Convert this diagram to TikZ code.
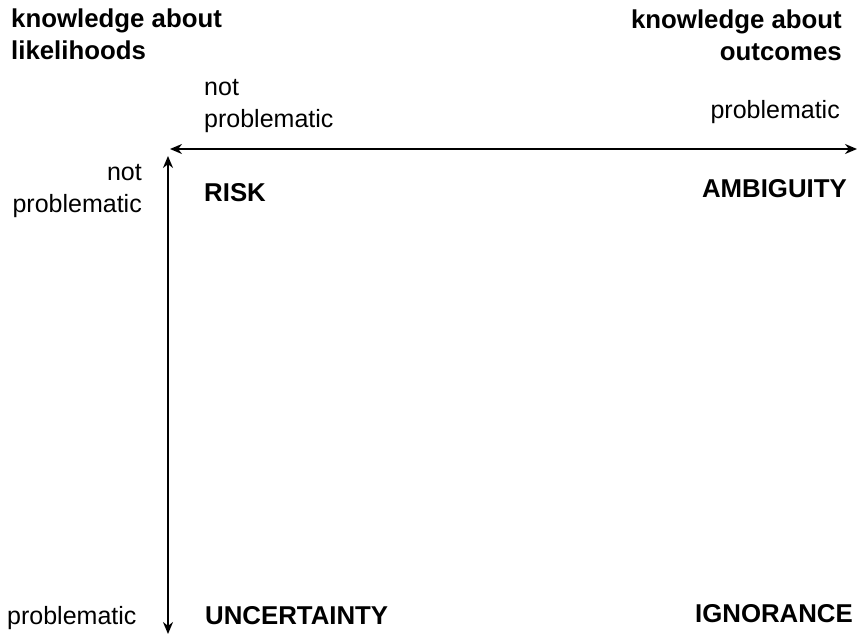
\documentclass[tikz,border=0pt]{standalone}
\usepackage{fontspec}
\setmainfont{Liberation Sans}
\usetikzlibrary{arrows.meta, positioning}

\begin{document}
\begin{tikzpicture}[x=1pt, y=-1pt,
		axistitle/.style={font=\fontsize{25.8}{32}\selectfont\bfseries, inner sep=0pt},
		level/.style={font=\fontsize{25}{32}\selectfont, inner sep=0pt},
		quadrant/.style={font=\fontsize{25.8}{32}\selectfont\bfseries, inner sep=0pt},
		axisline/.style={line width=2.8pt, {Stealth[length=12pt,width=10pt]}-{Stealth[length=12pt,width=10pt]}}]
	\useasboundingbox (0,0) rectangle (858,637);
	% axes
	\coordinate (hleft) at (170,149);
	\coordinate (hright) at (857,149);
	\coordinate (vtop) at (168,156);
	\coordinate (vbottom) at (168,634);
	\draw[axisline] (hleft) -- (hright);
	\draw[axisline] (vtop) -- (vbottom);
	% titles
	\node[axistitle, anchor=base west, align=left] (likelihoods) at (11,59) {knowledge about\\likelihoods};
	\node[axistitle, anchor=base east, align=right] (outcomes) at (842,60) {knowledge about\\outcomes};
	% levels on the axes
	\node[level, anchor=base west, align=left] (topnot) at (204,127) {not\\problematic};
	\node[level, anchor=base east] (topprob) at (840,118) {problematic};
	\node[level, anchor=base east, align=right] (leftnot) at (142,212) {not\\problematic};
	\node[level, anchor=base west] (leftprob) at (7,624) {problematic};
	% quadrants
	\node[quadrant, anchor=base west] (risk) at (204,201) {RISK};
	\node[quadrant, anchor=base east] (ambiguity) at (847,197) {AMBIGUITY};
	\node[quadrant, anchor=base west] (uncertainty) at (205,624) {UNCERTAINTY};
	\node[quadrant, anchor=base east] (ignorance) at (853,622) {IGNORANCE};
\end{tikzpicture}
\end{document}
